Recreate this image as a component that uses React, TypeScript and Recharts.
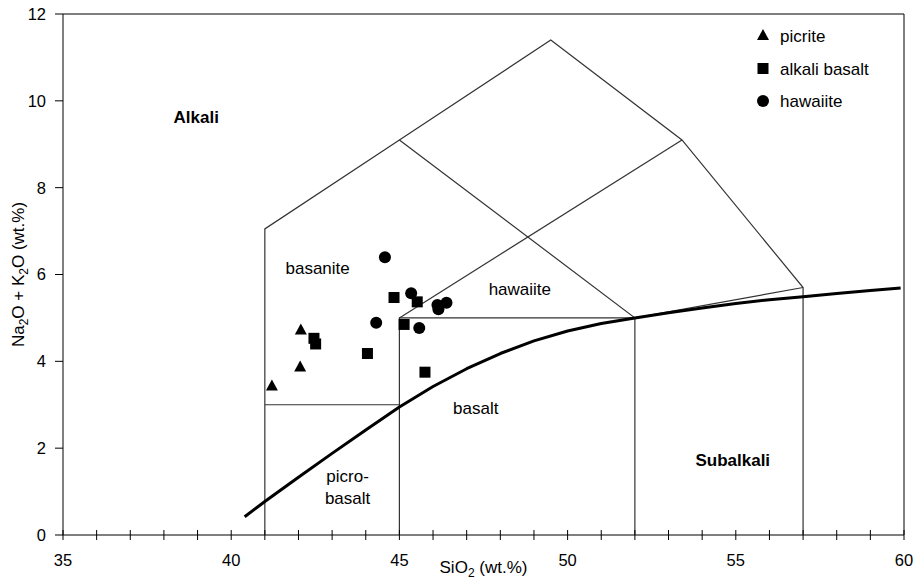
import {
  ScatterChart,
  Scatter,
  XAxis,
  YAxis,
  ReferenceLine,
  ReferenceDot,
  Legend,
  Label,
} from "recharts";

// sample analyses, SiO2 vs total alkali (wt.%)
const picriteSiO2 = [42.07, 42.05, 41.21];
const picriteAlk = [4.71, 3.86, 3.42];

const alkBasaltSiO2 = [44.84, 45.53, 45.14, 42.46, 42.51, 44.05, 45.76];
const alkBasaltAlk = [5.47, 5.37, 4.85, 4.53, 4.4, 4.18, 3.75];

const hawaiiteSiO2 = [44.57, 45.35, 46.13, 46.16, 46.4, 44.31, 45.59];
const hawaiiteAlk = [6.4, 5.57, 5.3, 5.2, 5.35, 4.89, 4.77];

// alkaline / subalkaline divide
const divideSiO2 = [40.4, 41, 42, 43, 44, 45, 46, 47, 48, 49, 50, 51, 52, 53, 54, 55, 56, 57, 58, 59, 59.9];
const divideAlk = [0.42, 0.77, 1.33, 1.88, 2.42, 2.95, 3.42, 3.83, 4.18, 4.47, 4.7, 4.87, 5.0, 5.12, 5.23, 5.33, 5.42, 5.49, 5.56, 5.63, 5.69];

// TAS field boundaries as polylines [SiO2, alkali]
const outerField = [[41, 0], [41, 7.05], [45, 9.1], [49.5, 11.4], [53.4, 9.1], [57, 5.7], [57, 0]];
const picroTop = [[41, 3], [45, 3]];
const basaltBox = [[45, 0], [45, 5], [52, 5], [52, 0]];
const hawaiiteTop = [[45, 9.1], [52, 5], [57, 5.7]];
const diagonal = [[45, 5], [53.4, 9.1]];
const boundaries = [outerField, picroTop, basaltBox, hawaiiteTop, diagonal];

const xTicks = Array.from({ length: 26 }, (_, i) => 35 + i);
const yTicks = [0, 2, 4, 6, 8, 10, 12];

const fieldNames = ["Alkali", "basanite", "hawaiite", "basalt", "picro-|basalt", "Subalkali"];
const fieldX = [38.96, 42.57, 48.58, 47.27, 43.46, 54.91];
const fieldY = [9.63, 6.15, 5.67, 2.93, 1.1, 1.73];
const fieldBold = [true, false, false, false, false, true];

const legendNames = ["picrite", "alkali basalt", "hawaiite"];

const zip = (xs: number[], ys: number[]) => xs.map((x, i) => ({ x, y: ys[i] }));
const toPts = (line: number[][]) => line.map(([x, y]) => ({ x, y }));

const Tri = (p: any) => (
  <polygon
    points={`${p.cx},${p.cy - 7} ${p.cx - 6},${p.cy + 4} ${p.cx + 6},${p.cy + 4}`}
    fill="#000"
  />
);
const Sq = (p: any) => <rect x={p.cx - 5.5} y={p.cy - 5.5} width={11} height={11} fill="#000" />;
const Dot = (p: any) => <circle cx={p.cx} cy={p.cy} r={6} fill="#000" />;
const NoMark = () => <g />;

const legendIcons = [Tri, Sq, Dot];

const XTick = ({ x, y, payload }: any) => (
  <g>
    <line x1={x} x2={x} y1={y - 5} y2={y + 5} stroke="#000" />
    {payload.value % 5 === 0 && (
      <text x={x} y={y + 31} textAnchor="middle" fontSize={16.5} fill="#000">
        {payload.value}
      </text>
    )}
  </g>
);

const FieldLabel = (name: string, bold: boolean) => (p: any) => {
  const lines = name.split("|");
  return (
    <text
      x={p.cx}
      y={p.cy}
      textAnchor="middle"
      fontSize={17}
      fontWeight={bold ? "bold" : "normal"}
      fill="#000"
    >
      {lines.map((t, i) => (
        <tspan key={i} x={p.cx} dy={i === 0 ? (lines.length > 1 ? -5 : 6) : 22}>
          {t}
        </tspan>
      ))}
    </text>
  );
};

const LegendBox = () => (
  <svg width={150} height={100}>
    {legendNames.map((n, i) => {
      const Icon = legendIcons[i];
      const cy = 16 + i * 32.5;
      return (
        <g key={n}>
          <Icon cx={13} cy={cy} />
          <text x={30} y={cy + 6} fontSize={17} fill="#000">
            {n}
          </text>
        </g>
      );
    })}
  </svg>
);

export default function App() {
  return (
    <div
      style={{
        position: "absolute",
        left: 0,
        top: 0,
        width: 918,
        height: 583,
        background: "#fff",
        fontFamily: "'Liberation Sans', Arial, sans-serif",
      }}
    >
      <ScatterChart width={918} height={583} margin={{ top: 14, right: 14, bottom: 0, left: 0 }}>
        <XAxis
          type="number"
          dataKey="x"
          domain={[35, 60]}
          ticks={xTicks}
          interval={0}
          tick={<XTick />}
          tickSize={0}
          tickMargin={0}
          tickLine={false}
          height={48}
          axisLine={{ stroke: "#000" }}
        >
          <Label
            content={(p: any) => {
              const vb = p.viewBox;
              const cx = vb.x + vb.width / 2;
              return (
                <text x={cx} y={573} textAnchor="middle" fontSize={17} fill="#000">
                  SiO
                  <tspan fontSize={12} dy={4}>2</tspan>
                  <tspan dy={-4}> (wt.%)</tspan>
                </text>
              );
            }}
          />
        </XAxis>
        <YAxis
          type="number"
          dataKey="y"
          domain={[0, 12]}
          ticks={yTicks}
          interval={0}
          width={63}
          tickSize={8}
          tickMargin={9}
          tick={{ fontSize: 16.5, fill: "#000" }}
          tickLine={{ stroke: "#000" }}
          axisLine={{ stroke: "#000" }}
        >
          <Label
            content={(p: any) => {
              const vb = p.viewBox;
              const cy = vb.y + vb.height / 2;
              return (
                <text
                  x={24}
                  y={cy}
                  transform={`rotate(-90, 24, ${cy})`}
                  textAnchor="middle"
                  fontSize={17}
                  fill="#000"
                >
                  Na
                  <tspan fontSize={12} dy={4}>2</tspan>
                  <tspan dy={-4}>O + K</tspan>
                  <tspan fontSize={12} dy={4}>2</tspan>
                  <tspan dy={-4}>O (wt.%)</tspan>
                </text>
              );
            }}
          />
        </YAxis>

        <ReferenceLine y={12} stroke="#000" />
        <ReferenceLine x={60} stroke="#000" />

        {boundaries.map((b, i) => (
          <Scatter
            key={"b" + i}
            data={toPts(b)}
            line={{ stroke: "#333", strokeWidth: 1.2 }}
            shape={NoMark}
            legendType="none"
            isAnimationActive={false}
          />
        ))}

        <Scatter
          data={zip(divideSiO2, divideAlk)}
          line={{ stroke: "#000", strokeWidth: 3, strokeLinejoin: "round" }}
          shape={NoMark}
          legendType="none"
          isAnimationActive={false}
        />

        <Scatter name="picrite" data={zip(picriteSiO2, picriteAlk)} shape={Tri} isAnimationActive={false} />
        <Scatter name="alkali basalt" data={zip(alkBasaltSiO2, alkBasaltAlk)} shape={Sq} isAnimationActive={false} />
        <Scatter name="hawaiite" data={zip(hawaiiteSiO2, hawaiiteAlk)} shape={Dot} isAnimationActive={false} />

        {fieldNames.map((n, i) => (
          <ReferenceDot
            key={n}
            x={fieldX[i]}
            y={fieldY[i]}
            r={0}
            shape={FieldLabel(n, fieldBold[i])}
          />
        ))}

        <Legend
          layout="vertical"
          align="center"
          verticalAlign="middle"
          wrapperStyle={{ left: 750, top: 20, width: 150 }}
          content={LegendBox}
        />
      </ScatterChart>
    </div>
  );
}
